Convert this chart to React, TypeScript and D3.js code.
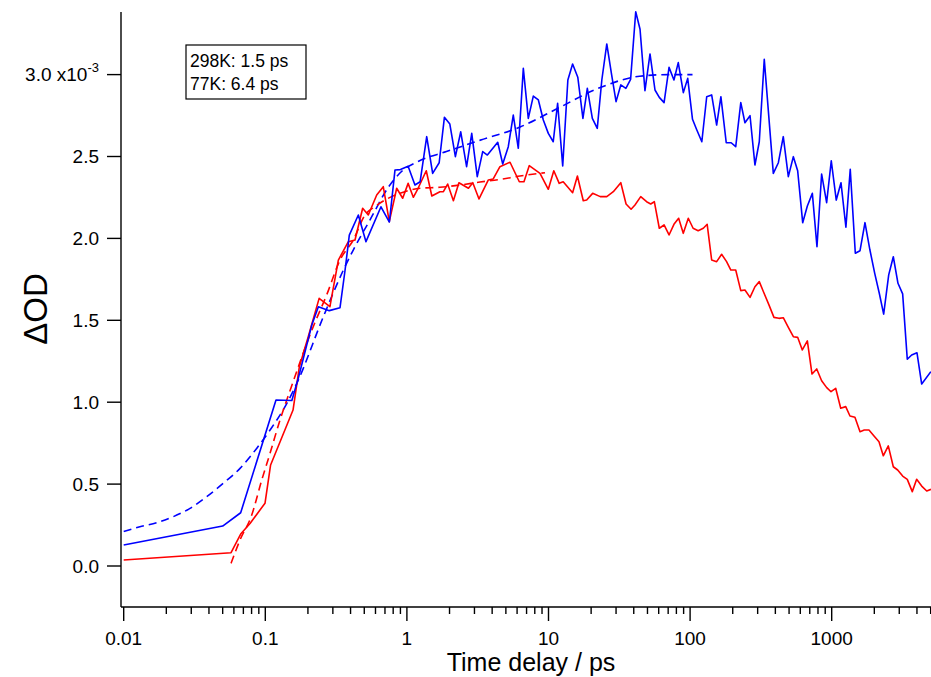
import React from "react";
import * as d3 from "d3";

// ---- Data (ΔOD in units of 1e-3, time in ps) ----
const blueT = [0.01,0.05,0.067,0.119,0.154,0.171,0.213,0.237,0.283,0.337,0.366,0.392,0.454,0.514,0.656,0.752,0.824,0.9,1.02,1.14,1.24,1.38,1.52,1.69,1.84,2.01,2.2,2.4,2.64,2.87,3.14,3.43,3.7,4.38,4.75,5.2,5.64,6.12,6.64,7.2,7.81,8.48,9.19,9.97,10.8,11.6,12.6,13.7,14.8,16.1,17.5,18.8,20.4,22.1,23.8,25.8,27.9,30.0,32.4,35.2,38.0,41.3,44.3,48.0,52.1,56.5,60.6,65.5,71,76.9,82.5,89.6,96.2,104,111,121,131,142,154,165,180,195,210,228,244,265,287,308,334,387,420,455,494,536,575,624,673,730,787,849,921,993,1077,1163,1260,1352,1468,1585,1718,1862,2013,2168,2328,2527,2723,2938,3170,3418,3670,4000,4321,5012];
const blueV = [0.128,0.244,0.325,1.013,1.01,1.146,1.471,1.583,1.559,1.577,1.807,2.02,2.143,1.98,2.193,2.1,2.418,2.42,2.44,2.326,2.346,2.621,2.397,2.462,2.739,2.698,2.499,2.651,2.438,2.641,2.377,2.53,2.509,2.587,2.454,2.56,2.753,2.55,3.038,2.733,2.869,2.845,2.723,2.641,2.59,2.825,2.442,2.967,3.065,2.984,2.733,2.916,2.733,2.672,2.967,3.187,3.0,2.835,2.937,2.916,2.971,3.384,3.277,2.902,3.126,2.906,2.861,2.829,3.044,2.967,3.073,2.89,2.977,2.727,2.666,2.59,2.865,2.876,2.692,2.865,2.584,2.584,2.56,2.829,2.706,2.749,2.448,2.59,3.093,2.397,2.462,2.621,2.377,2.499,2.413,2.096,2.198,2.275,1.949,2.393,2.218,2.474,2.234,2.34,2.068,2.422,1.909,1.925,2.096,1.929,1.787,1.665,1.538,1.777,1.888,1.726,1.661,1.262,1.288,1.302,1.111,1.186];

const redT = [0.01,0.0573,0.067,0.078,0.0995,0.109,0.157,0.174,0.201,0.24,0.286,0.328,0.386,0.43,0.487,0.534,0.612,0.681,0.751,0.847,0.934,1.02,1.11,1.2,1.37,1.5,1.71,1.81,1.94,2.13,2.33,2.72,2.92,3.23,3.76,4.07,4.54,5.35,6.22,6.71,7.31,8.71,9.97,10.9,11.9,12.7,14.8,16.0,17.6,18.6,20.5,23.2,25.8,28.7,32.4,35.3,38.3,40.8,44.8,49.3,52.7,55.9,60.6,65.5,71.0,76.9,83.0,89.5,97.1,105,114,124,132,142,154,167,181,194,210,228,244,265,287,308,333,361,391,424,455,494,536,575,620,673,726,784,849,922,989,1067,1158,1256,1346,1459,1585,1698,1833,1990,2158,2313,2510,2723,2924,3170,3418,3707,3981,4321,4690,5023];
const redV = [0.037,0.081,0.195,0.26,0.383,0.617,0.952,1.217,1.4,1.634,1.583,1.868,1.98,1.99,2.184,2.143,2.265,2.316,2.102,2.306,2.245,2.336,2.251,2.306,2.413,2.259,2.285,2.285,2.332,2.23,2.34,2.306,2.34,2.241,2.357,2.363,2.438,2.465,2.346,2.346,2.444,2.397,2.3,2.413,2.336,2.346,2.279,2.381,2.23,2.234,2.275,2.255,2.255,2.285,2.34,2.21,2.178,2.204,2.255,2.224,2.21,2.224,2.062,2.082,2.021,2.086,2.123,2.031,2.123,2.062,2.047,2.062,2.086,1.868,1.858,1.903,1.858,1.807,1.807,1.681,1.685,1.64,1.705,1.736,1.665,1.593,1.518,1.512,1.516,1.457,1.4,1.396,1.319,1.374,1.172,1.203,1.131,1.089,1.064,1.085,0.963,0.973,0.916,0.908,0.82,0.83,0.83,0.794,0.759,0.673,0.733,0.606,0.586,0.549,0.529,0.454,0.529,0.488,0.458,0.468];

const blueFitT = [0.01,0.013,0.0171,0.0224,0.0294,0.0385,0.0505,0.0663,0.0869,0.108,0.142,0.167,0.257,0.356,0.418,0.548,0.75,0.92,1.2,1.9,3.3,6.3,12,23,44,70,104];
const blueFitV = [0.21,0.24,0.264,0.301,0.352,0.423,0.505,0.596,0.718,0.83,0.993,1.115,1.522,1.807,1.929,2.112,2.32,2.41,2.47,2.53,2.6,2.68,2.8,2.92,2.99,3.0,3.0];

const redFitT = [0.0573,0.0663,0.0802,0.0944,0.108,0.127,0.15,0.218,0.271,0.337,0.418,0.506,0.595,0.7,0.894,1.24,1.71,2.37,3.28,4.54,6.3,9.45];
const redFitV = [0.016,0.159,0.311,0.525,0.688,0.891,1.074,1.461,1.654,1.868,1.99,2.143,2.194,2.234,2.275,2.306,2.312,2.326,2.344,2.36,2.381,2.401];

const xTickLabels = ["0.01", "0.1", "1", "10", "100", "1000"];
const yTickValues = [0, 0.5, 1.0, 1.5, 2.0, 2.5, 3.0];
const legendLines = ["298K: 1.5 ps", "77K: 6.4 ps"];

const W = 931, H = 677;
const LEFT = 121, RIGHT = 931, TOP = 12, BOTTOM = 607;

export default function App() {
  const x = d3.scaleLog().domain([0.01, 1000]).range([123.7, 831.7]);
  const y = d3.scaleLinear().domain([0, 3]).range([566, 74.6]);
  const xMax = x.invert(RIGHT);

  const pts = (t: number[], v: number[]) => t.map((d, i) => [d, v[i]] as [number, number]);
  const line = d3.line<[number, number]>().x(d => x(d[0])).y(d => y(d[1]));
  const smooth = d3.line<[number, number]>().x(d => x(d[0])).y(d => y(d[1])).curve(d3.curveMonotoneX);

  const minor: number[] = [];
  for (let e = -2; e <= 3; e++) {
    for (let m = 2; m <= 9; m++) {
      const v = m * Math.pow(10, e);
      if (v <= xMax + 1e-9) minor.push(v);
    }
  }
  const major = xTickLabels.map(s => +s);
  const font = "'Liberation Sans', Arial, sans-serif";

  return (
    <svg width={W} height={H} style={{ position: "absolute", left: 0, top: 0, background: "#fff" }} fontFamily={font}>
      <defs>
        <clipPath id="plotclip">
          <rect x={LEFT} y={0} width={RIGHT - LEFT} height={BOTTOM} />
        </clipPath>
      </defs>
      <rect x={0} y={0} width={W} height={H} fill="#fff" />
      <g clipPath="url(#plotclip)" fill="none" strokeWidth={1.6} strokeLinejoin="round">
        <path d={smooth(pts(blueFitT, blueFitV)) || ""} stroke="#0000ff" strokeDasharray="8,5" />
        <path d={smooth(pts(redFitT, redFitV)) || ""} stroke="#ff0000" strokeDasharray="8,5" />
        <path d={line(pts(redT, redV)) || ""} stroke="#ff0000" />
        <path d={line(pts(blueT, blueV)) || ""} stroke="#0000ff" />
      </g>
      <line x1={LEFT} x2={LEFT} y1={TOP} y2={BOTTOM} stroke="#000" strokeWidth={1.4} />
      <line x1={LEFT} x2={RIGHT} y1={BOTTOM} y2={BOTTOM} stroke="#000" strokeWidth={1.4} />
      {major.map((v, i) => (
        <g key={"M" + i}>
          <line x1={x(v)} x2={x(v)} y1={BOTTOM} y2={BOTTOM + 14} stroke="#000" strokeWidth={1.4} />
          <text x={x(v)} y={645} fontSize={19} textAnchor="middle">{xTickLabels[i]}</text>
        </g>
      ))}
      {minor.map((v, i) => (
        <line key={"m" + i} x1={x(v)} x2={x(v)} y1={BOTTOM} y2={BOTTOM + 7} stroke="#000" strokeWidth={1.4} />
      ))}
      {yTickValues.map((v, i) => (
        <g key={"y" + i}>
          <line x1={LEFT - 14} x2={LEFT} y1={y(v)} y2={y(v)} stroke="#000" strokeWidth={1.4} />
          {i === yTickValues.length - 1 ? (
            <text x={99} y={y(v) + 6.5} fontSize={19} textAnchor="end">
              {v.toFixed(1) + " x10"}
              <tspan dy={-9} fontSize={13}>-3</tspan>
            </text>
          ) : (
            <text x={99} y={y(v) + 6.5} fontSize={19} textAnchor="end">{v.toFixed(1)}</text>
          )}
        </g>
      ))}
      <text x={531} y={671} fontSize={25} textAnchor="middle">Time delay / ps</text>
      <text transform="translate(47,309) rotate(-90)" fontSize={33} textAnchor="middle">ΔOD</text>
      <rect x={186} y={45} width={120} height={54} fill="#fff" stroke="#000" strokeWidth={1.2} />
      {legendLines.map((s, i) => (
        <text key={"l" + i} x={190} y={67 + i * 22.5} fontSize={17.5}>{s}</text>
      ))}
    </svg>
  );
}
